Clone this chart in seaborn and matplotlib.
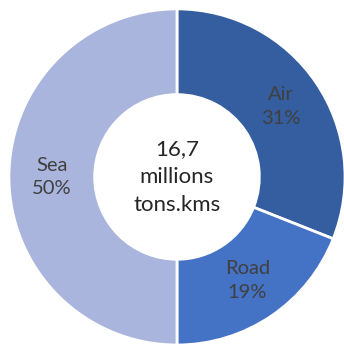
import matplotlib
matplotlib.use("Agg")
import matplotlib.pyplot as plt
import seaborn as sns
import numpy as np

categories = ["Air", "Road", "Sea"]
shares = [31, 19, 50]
colors = ["#345E9F", "#4472C4", "#A9B5DC"]
center_lines = ["16,7", "millions", "tons.kms"]

sns.set_theme(style="white")
plt.rcParams["font.family"] = ["Lato", "DejaVu Sans"]

fig = plt.figure(figsize=(3.44, 3.49), dpi=100)
ax = fig.add_axes([0.026, 0.0115, 0.977, 0.963])
wedges, _ = ax.pie(shares, colors=colors, startangle=90, counterclock=False,
                   radius=1.0,
                   wedgeprops=dict(width=0.51, edgecolor="white", linewidth=2))
ax.set_xlim(-1, 1)
ax.set_ylim(-1, 1)
ax.set_aspect("auto")
ax.axis("off")

r_lab = 1 - 0.51 / 2
for cat, val, w in zip(categories, shares, wedges):
    mid = np.deg2rad((w.theta1 + w.theta2) / 2)
    ax.text(r_lab * np.cos(mid), r_lab * np.sin(mid), f"{cat}\n{val}%",
            ha="center", va="center", fontsize=14.5, color="#404040",
            linespacing=1.45)

ax.text(0, 0, "\n".join(center_lines), ha="center", va="center",
        fontsize=16, color="#262626", linespacing=1.5)

fig.savefig("out.png", dpi=100)
